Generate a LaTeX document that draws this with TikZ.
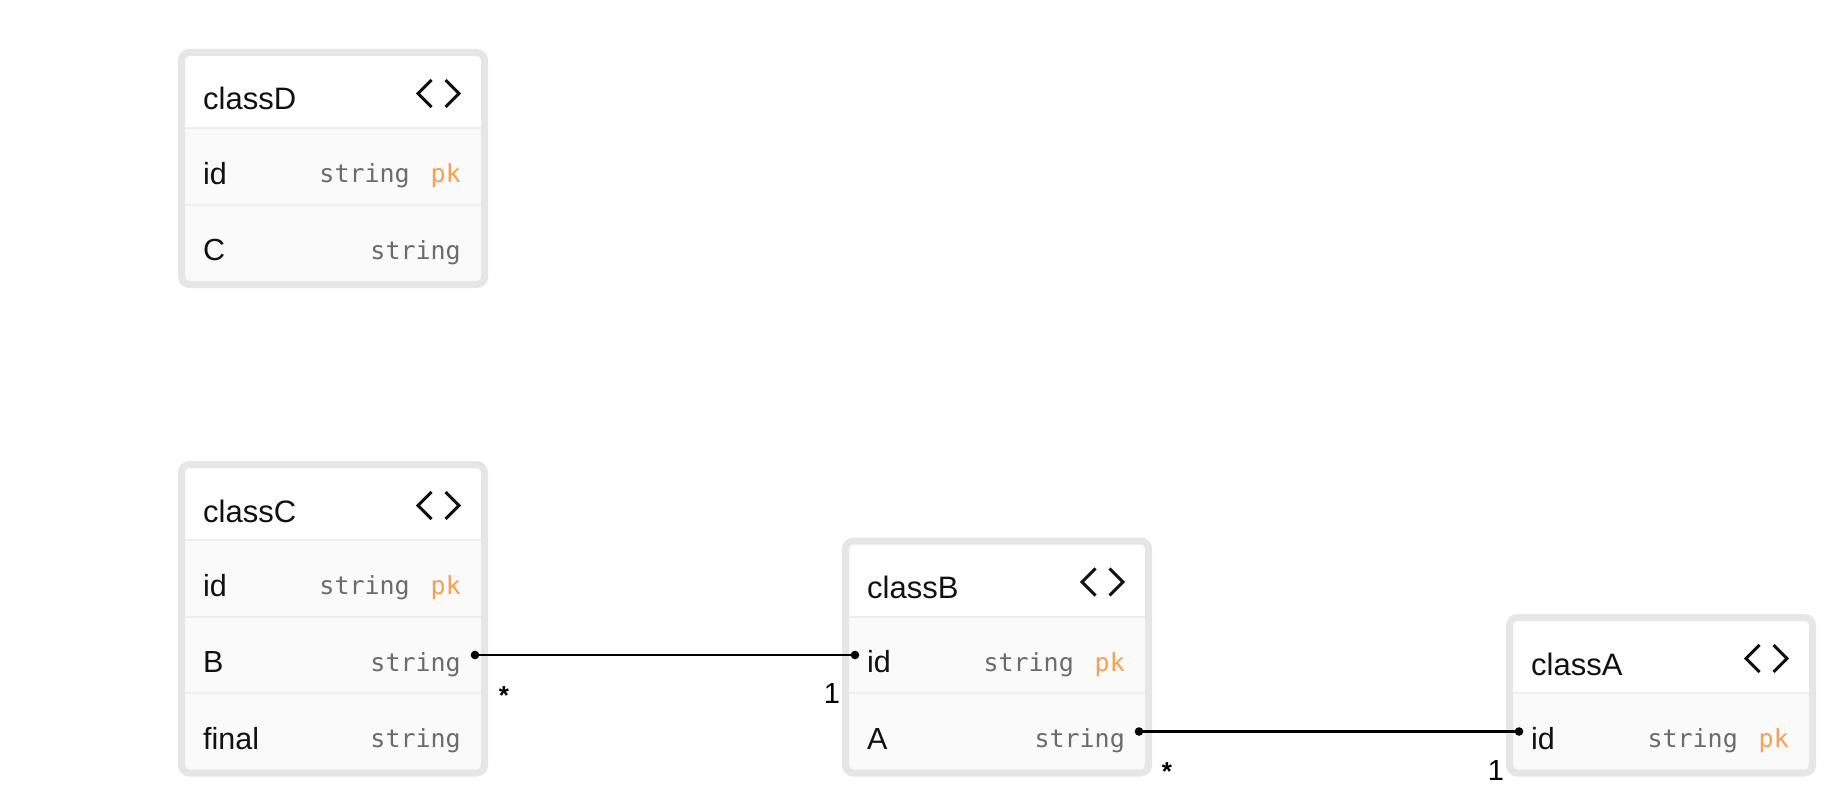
\documentclass[tikz,border=0pt]{standalone}
\usepackage{fontspec}
\setmainfont{Liberation Sans}
\newfontfamily\monof{DejaVu Sans Mono}
\definecolor{boxborder}{HTML}{E6E6E6}
\definecolor{rowfill}{HTML}{FAFAFA}
\definecolor{sepcol}{HTML}{EEEEEE}
\definecolor{typecol}{HTML}{6B6B6B}
\definecolor{pkcol}{HTML}{F5A052}
\definecolor{inkcol}{HTML}{111111}
\tikzset{
  borderline/.style={draw=boxborder,line width=7pt,rounded corners=8pt},
  sepline/.style={draw=sepcol,line width=2pt},
  titletext/.style={anchor=base west,inner sep=0pt,text=inkcol,font=\fontsize{31}{36}\selectfont},
  fieldtext/.style={anchor=base west,inner sep=0pt,text=inkcol,font=\fontsize{30.5}{36}\selectfont},
  typetext/.style={anchor=base east,inner sep=0pt,text=typecol,font=\monof\fontsize{25}{30}\selectfont},
  pktext/.style={anchor=base east,inner sep=0pt,text=pkcol,font=\monof\fontsize{25}{30}\selectfont},
  chev/.style={draw=inkcol,line width=3pt,line join=miter},
  relline/.style={draw=black,line width=2.6pt},
  enddot/.style={fill=black},
  multlabel/.style={anchor=base,inner sep=0pt,text=black,font=\fontsize{29}{34}\selectfont},
  starlabel/.style={anchor=base,inner sep=0pt,text=black,font=\bfseries\fontsize{26}{30}\selectfont}
}
% #1 id, #2 outer left, #3 inner top, #4 number of rows, #5 title
\newcommand\umlbox[5]{%
  \pgfmathsetmacro\bxL{#2}%
  \pgfmathsetmacro\bxR{#2+310}%
  \pgfmathsetmacro\bxT{#3}%
  \pgfmathsetmacro\bxB{#3+72+76.5*#4}%
  \fill[white,rounded corners=8pt] (\bxL,\bxT-7) rectangle (\bxR,\bxB+7);
  \fill[rowfill] (\bxL+7,\bxT+72) rectangle (\bxR-7,\bxB);
  \draw[borderline] (\bxL+3.5,\bxT-3.5) rectangle (\bxR-3.5,\bxB+3.5);
  \node[titletext] (#1-title) at (\bxL+25,\bxT+54) {#5};
  \draw[chev] (\bxL+253.5,\bxT+24) -- (\bxL+240,\bxT+37.5) -- (\bxL+253.5,\bxT+51);
  \draw[chev] (\bxL+267.5,\bxT+24) -- (\bxL+281,\bxT+37.5) -- (\bxL+267.5,\bxT+51);
}
% #1 id, #2 outer left, #3 inner top, #4 row index, #5 key, #6 name, #7 type
\newcommand\umlrow[7]{%
  \pgfmathsetmacro\rwT{#3+72+76.5*(#4-1)}%
  \draw[sepline] (#2+7,\rwT) -- (#2+303,\rwT);
  \node[fieldtext] (#1-#5-name) at (#2+25,\rwT+56) {#6};
  \node[typetext] (#1-#5-type) at (#2+283,\rwT+54.5) {#7};
  \coordinate (#1-#5-l) at (#2+13,\rwT+38.5);
  \coordinate (#1-#5-r) at (#2+297,\rwT+38.5);
}
\newcommand\umlrowpk[7]{%
  \pgfmathsetmacro\rwT{#3+72+76.5*(#4-1)}%
  \draw[sepline] (#2+7,\rwT) -- (#2+303,\rwT);
  \node[fieldtext] (#1-#5-name) at (#2+25,\rwT+56) {#6};
  \node[typetext] (#1-#5-type) at (#2+232,\rwT+54.5) {#7};
  \node[pktext] (#1-#5-pk) at (#2+283,\rwT+54.5) {pk};
  \coordinate (#1-#5-l) at (#2+13,\rwT+38.5);
  \coordinate (#1-#5-r) at (#2+297,\rwT+38.5);
}
\begin{document}
\begin{tikzpicture}[x=1pt,y=-1pt]
\useasboundingbox (0,0) rectangle (1828,808);
% classD
\umlbox{D}{178}{56}{2}{classD}
\umlrowpk{D}{178}{56}{1}{id}{id}{string}
\umlrow{D}{178}{56}{2}{C}{C}{string}
% classC
\umlbox{C}{178}{468}{3}{classC}
\umlrowpk{C}{178}{468}{1}{id}{id}{string}
\umlrow{C}{178}{468}{2}{B}{B}{string}
\umlrow{C}{178}{468}{3}{final}{f{}inal}{string}
% classB
\umlbox{B}{842}{544.5}{2}{classB}
\umlrowpk{B}{842}{544.5}{1}{id}{id}{string}
\umlrow{B}{842}{544.5}{2}{A}{A}{string}
% classA
\umlbox{A}{1506}{621}{1}{classA}
\umlrowpk{A}{1506}{621}{1}{id}{id}{string}
% relations
\draw[relline] (C-B-r) -- (B-id-l);
\fill[enddot] (C-B-r) circle (4.3);
\fill[enddot] (B-id-l) circle (4.3);
\node[starlabel] (lblCB-many) at ([shift={(29,49)}]C-B-r) {*};
\node[multlabel] (lblCB-one) at ([shift={(-23,48)}]B-id-l) {1};
\draw[relline] (B-A-r) -- (A-id-l);
\fill[enddot] (B-A-r) circle (4.3);
\fill[enddot] (A-id-l) circle (4.3);
\node[starlabel] (lblBA-many) at ([shift={(28,49)}]B-A-r) {*};
\node[multlabel] (lblBA-one) at ([shift={(-23,49)}]A-id-l) {1};
\end{tikzpicture}
\end{document}
